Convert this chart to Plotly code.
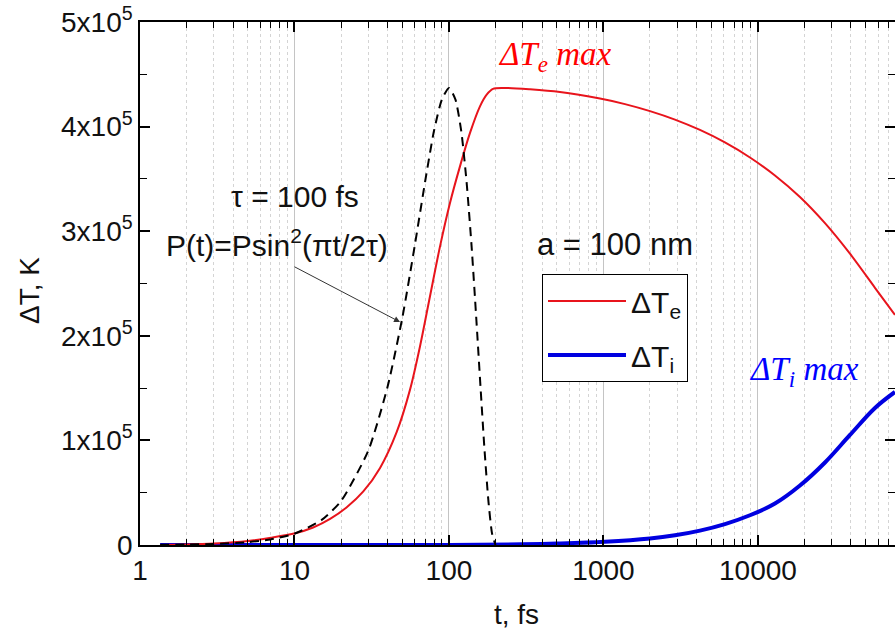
import plotly.graph_objects as go

# ---------------- data ----------------
t_e = [1.35, 1.99, 3.01, 5.0, 7.04, 10.1, 13.2, 17.0, 21.8, 27.9, 35.8, 45.9, 55.9,
       64.9, 75.3, 87.5, 101.5, 117.8, 136.8, 158.7, 175.4, 192.7, 223.6, 334.5, 522.9,
       949, 1378, 2000, 2902, 4212, 6113, 8876, 12882, 18700, 27150, 39400, 57190, 77040]
dTe = [0, 380, 1340, 3830, 6990, 11200, 16700, 24900, 36100, 51200, 73700, 108100,
       148300, 189800, 237600, 285500, 327000, 362000, 394000, 419400, 430600, 436100,
       437000, 435600, 433000, 426800, 421500, 414800, 406700, 396800, 384900, 370500,
       353300, 332700, 307700, 278500, 245900, 220100]

t_i = [1.35, 10, 101.5, 296.9, 500, 1023, 2000, 2902, 4212, 6113, 8876, 12882, 18700,
       27150, 39400, 57190, 77040]
dTi = [0, 0, 100, 670, 1440, 3160, 6220, 9280, 13780, 20000, 28420, 39620, 56840,
       78850, 105200, 131000, 146300]

t_p = [1.35, 2, 3, 5, 7, 10, 15, 20, 30, 40, 50, 60, 70, 80, 90, 100, 110, 120, 130,
       140, 150, 160, 170, 180, 190, 200]
pulse = [200, 430, 970, 2700, 5300, 10800, 24000, 42000, 90000, 151000, 218000,
         286000, 347000, 396000, 426000, 437000, 426000, 396000, 347000, 286000,
         218000, 151000, 90000, 42000, 11000, 0]

x_tickvals = [1, 10, 100, 1000, 10000]
x_ticktext = ["1", "10", "100", "1000", "10000"]
y_tickvals = [0, 100000, 200000, 300000, 400000, 500000]
y_ticktext = ["0", "1x10<sup>5</sup>", "2x10<sup>5</sup>", "3x10<sup>5</sup>",
              "4x10<sup>5</sup>", "5x10<sup>5</sup>"]
x_minor = [k * 10 ** n for n in range(0, 5) for k in range(2, 10)]

FONT = "Liberation Sans, Arial, sans-serif"
SERIF = "Liberation Serif, Times New Roman, serif"
TXT = "#111111"

fig = go.Figure()
fig.add_trace(go.Scatter(x=t_i, y=dTi, mode="lines", name="ΔT<sub>i</sub>",
                         legendgroup="i", legendrank=2,
                         line=dict(color="#0000e0", width=4, shape="spline", smoothing=1.0)))
fig.add_trace(go.Scatter(x=t_e, y=dTe, mode="lines", name="ΔT<sub>e</sub>",
                         legendgroup="e", legendrank=1,
                         line=dict(color="#e8141c", width=2, shape="spline", smoothing=0.8)))
fig.add_trace(go.Scatter(x=t_p, y=pulse, mode="lines", showlegend=False,
                         line=dict(color="black", width=2, dash="9px,6px",
                                   shape="spline", smoothing=0.6)))

axis_common = dict(showline=True, linecolor="black", linewidth=1.5, mirror="ticks",
                   ticks="inside", ticklen=10, tickwidth=1.5, tickcolor="black",
                   tickfont=dict(family=FONT, size=28, color=TXT), zeroline=False)

fig.update_xaxes(type="log", range=[0, 4.887], tickmode="array", tickvals=x_tickvals,
                 ticktext=x_ticktext, showgrid=True, gridcolor="#c4c4c4", gridwidth=1,
                 minor=dict(tickmode="array", tickvals=x_minor, ticks="inside", ticklen=6,
                            tickwidth=1.2, tickcolor="black", showgrid=True,
                            gridcolor="#d4d4d4", griddash="dot", gridwidth=1),
                 **axis_common)
fig.update_yaxes(range=[0, 500000], tickmode="array", tickvals=y_tickvals,
                 ticktext=y_ticktext, showgrid=False,
                 minor=dict(dtick=50000, tick0=0, ticks="inside", ticklen=7,
                            tickwidth=1.2, tickcolor="black", showgrid=False),
                 **axis_common)

W, H = 895, 633
L, R, T, B = 140, 0, 22, 88
pw, ph = W - L - R, H - T - B


def px(x):
    return (x - L) / pw


def py(y):
    return (H - B - y) / ph


def note(text, x, y, size=30, color=TXT, family=FONT, **kw):
    d = dict(text=text, x=px(x), y=py(y), xref="paper", yref="paper",
             xanchor="center", yanchor="middle", showarrow=False,
             font=dict(family=family, size=size, color=color))
    d.update(kw)
    return d


ann = [
    note("t, fs", 516, 614, size=28),
    note("ΔT, K", 29, 291, size=28, textangle=-90),
    note("<i>ΔT<sub>e</sub> max</i>", 555, 57, size=33, color="#ff0000", family=SERIF),
    note("<i>ΔT<sub>i</sub> max</i>", 804, 371, size=33, color="#0000ff", family=SERIF),
    note("τ = 100 fs", 295, 196),
    note("P(t)=Psin<sup>2</sup>(πt/2τ)", 277, 243),
    note("a = 100 nm", 615, 244, size=31),
    dict(text="", x=px(400), y=py(322), xref="paper", yref="paper",
         showarrow=True, ax=293 - 400, ay=266 - 322, arrowhead=2, arrowsize=1.2,
         arrowwidth=1, arrowcolor="#333333"),
]

fig.update_layout(
    width=W, height=H, margin=dict(l=L, r=R, t=T, b=B, autoexpand=False),
    paper_bgcolor="white", plot_bgcolor="white",
    font=dict(family=FONT, size=28, color=TXT),
    showlegend=True,
    legend=dict(x=px(542), y=py(274), xanchor="left", yanchor="top",
                bordercolor="black", borderwidth=1, bgcolor="white",
                font=dict(family=FONT, size=30, color=TXT), itemwidth=78,
                traceorder="grouped", tracegroupgap=12),
    annotations=ann,
)

fig.write_html(
    "out.html",
    config={"displayModeBar": False},
    post_script="document.body.style.margin='0';document.body.style.overflow='hidden';"
                "document.documentElement.style.overflow='hidden';",
)
